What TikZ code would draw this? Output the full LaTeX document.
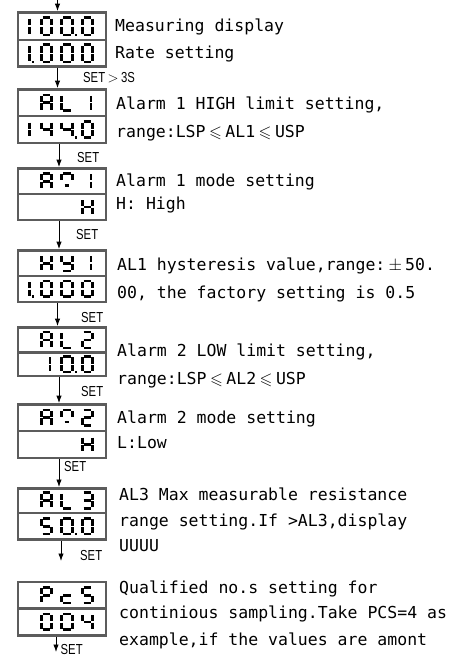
\documentclass[tikz,border=0pt]{standalone}
\usepackage{fontspec}
\usepackage{amssymb}
\usepackage{graphicx}
\usetikzlibrary{calc,arrows.meta}
\newfontfamily\monofont{DejaVu Sans Mono}
\newfontfamily\labelfont{Liberation Sans}
\definecolor{framegray}{RGB}{92,92,92}

% segments of one display cell, x to the right and y down from the cell's middle
\newcommand{\segA}{(2.6,-8.75)--(10.4,-8.75)}
\newcommand{\segB}{(11.75,-7.6)--(11.75,-0.8)}
\newcommand{\segC}{(11.75,0.8)--(11.75,7.6)}
\newcommand{\segD}{(2.6,8.75)--(10.4,8.75)}
\newcommand{\segE}{(1.25,0.8)--(1.25,7.6)}
\newcommand{\segF}{(1.25,-7.6)--(1.25,-0.8)}
\newcommand{\segG}{(2.6,0)--(10.4,0)}
\newcommand{\segU}{(10,-7.6)--(10,-0.8)}
\newcommand{\segL}{(10,0.8)--(10,7.6)}
\newcommand{\segP}{(14.6,8.75)--(16.8,8.75)}
\newcommand{\segQ}{(12.3,8.75)--(14.5,8.75)}
\newcommand{\segH}{(4.2,4.6)--(8.8,4.6)}
\def\dsc{0.9}
% #1 row node, #2 left edge of the cell from the row centre, #3 lit segments
\newcommand{\dispchar}[3]{%
  \begin{scope}[shift={($(#1.center)+(#2,0)$)},yscale=\dsc]
    \foreach \sgname in {#3}{%
      \expandafter\let\expandafter\thisseg\csname seg\sgname\endcsname
      \draw[segline] \thisseg;}
  \end{scope}}
\newcommand{\wle}{\makebox[19.8pt]{$\leqslant$}}
\newcommand{\wpm}{\makebox[19.8pt]{$\pm$}}
\newcommand{\setword}[1]{\scalebox{0.78}[1]{#1}}

\begin{document}
\begin{tikzpicture}[x=1pt,y=-1pt,
  disp/.style={draw=framegray,line width=2.5pt,fill=white,minimum width=88pt,inner sep=0pt},
  segline/.style={line width=2.6pt},
  desc/.style={font=\monofont\fontsize{16.5}{18}\selectfont,inner sep=0pt,anchor=base west},
  setlbl/.style={font=\labelfont\fontsize{14.5}{14.5}\selectfont,inner sep=0pt,anchor=base west},
  flow/.style={-{Latex[length=7.5pt,width=5.5pt]},line width=0.9pt}]
  \useasboundingbox (0,0) rectangle (450,658);
  \fill[white] (0,0) rectangle (450,658);

  % group 1: measuring display and rate
  \node[disp,minimum height=27.7pt] (g1a) at (62,26.2) {};
  \node[disp,minimum height=26.7pt] (g1b) at (62,53.4) {};
  \def\dsc{1}
  \dispchar{g1a}{-42.5}{U,L}
  \dispchar{g1a}{-22}{A,B,C,D,E,F}
  \dispchar{g1a}{-1.5}{A,B,C,D,E,F,P}
  \dispchar{g1a}{19}{A,B,C,D,E,F}
  \dispchar{g1b}{-42.5}{U,L,Q}
  \dispchar{g1b}{-22}{A,B,C,D,E,F}
  \dispchar{g1b}{-1.5}{A,B,C,D,E,F}
  \dispchar{g1b}{19}{A,B,C,D,E,F}
  \node[desc] (d1a) at (115,31.5) {Measuring display};
  \node[desc] (d1b) at (115,58.5) {Rate setting};
  \def\dsc{0.9}

  % group 2: AL1
  \node[disp,minimum height=26.7pt] (g2a) at (62,102.7) {};
  \node[disp,minimum height=26.7pt] (g2b) at (62,129.4) {};
  \dispchar{g2a}{-22}{A,B,C,E,F,G}
  \dispchar{g2a}{-1.5}{D,E,F}
  \dispchar{g2a}{19}{U,L}
  \dispchar{g2b}{-42.5}{U,L}
  \dispchar{g2b}{-22}{B,C,F,G}
  \dispchar{g2b}{-1.5}{B,C,F,G,P}
  \dispchar{g2b}{19}{A,B,C,D,E,F}
  \node[desc] (d2a) at (116,110) {Alarm 1 HIGH limit setting,};
  \node[desc] (d2b) at (116,137) {range:LSP\wle AL1\wle USP};

  % group 3: AC1
  \node[disp,minimum height=25.7pt] (g3a) at (62,181.2) {};
  \node[disp,minimum height=25.7pt] (g3b) at (62,206.9) {};
  \dispchar{g3a}{-22}{A,B,C,E,F,G}
  \dispchar{g3a}{-1.5}{A,B,F,H}
  \dispchar{g3a}{19}{U,L}
  \dispchar{g3b}{19}{B,C,E,F,G}
  \node[desc] (d3a) at (116,186) {Alarm 1 mode setting};
  \node[desc] (d3b) at (116,209) {H: High};

  % group 4: HY1
  \node[disp,minimum height=25.7pt] (g4a) at (62,263.2) {};
  \node[disp,minimum height=25.7pt] (g4b) at (62,288.9) {};
  \dispchar{g4a}{-22}{B,C,E,F,G}
  \dispchar{g4a}{-1.5}{B,C,D,F,G}
  \dispchar{g4a}{19}{U,L}
  \dispchar{g4b}{-42.5}{U,L,Q}
  \dispchar{g4b}{-22}{A,B,C,D,E,F}
  \dispchar{g4b}{-1.5}{A,B,C,D,E,F}
  \dispchar{g4b}{19}{A,B,C,D,E,F}
  \node[desc] (d4a) at (117,270.5) {AL1 hysteresis value,range:\wpm 50.};
  \node[desc] (d4b) at (117,298.5) {00, the factory setting is 0.5};

  % group 5: AL2
  \node[disp,minimum height=25.4pt] (g5a) at (62,340) {};
  \node[disp,minimum height=23.1pt] (g5b) at (62,364.3) {};
  \dispchar{g5a}{-22}{A,B,C,E,F,G}
  \dispchar{g5a}{-1.5}{D,E,F}
  \dispchar{g5a}{19}{A,B,D,E,G}
  \dispchar{g5b}{-22}{U,L}
  \dispchar{g5b}{-1.5}{A,B,C,D,E,F,P}
  \dispchar{g5b}{19}{A,B,C,D,E,F}
  \node[desc] (d5a) at (117,356.5) {Alarm 2 LOW limit setting,};
  \node[desc] (d5b) at (117,384) {range:LSP\wle AL2\wle USP};

  % group 6: AC2
  \node[disp,minimum height=26.7pt] (g6a) at (62,417.7) {};
  \node[disp,minimum height=26.7pt] (g6b) at (62,444.4) {};
  \dispchar{g6a}{-22}{A,B,C,E,F,G}
  \dispchar{g6a}{-1.5}{A,B,F,H}
  \dispchar{g6a}{19}{A,B,D,E,G}
  \dispchar{g6b}{19}{B,C,E,F,G}
  \node[desc] (d6a) at (117,423) {Alarm 2 mode setting};
  \node[desc] (d6b) at (117,448) {L:Low};

  % group 7: AL3
  \node[disp,minimum height=24.7pt] (g7a) at (62,500.6) {};
  \node[disp,minimum height=26.7pt] (g7b) at (62,526.3) {};
  \dispchar{g7a}{-22}{A,B,C,E,F,G}
  \dispchar{g7a}{-1.5}{D,E,F}
  \dispchar{g7a}{19}{A,B,C,D,G}
  \dispchar{g7b}{-22}{A,C,D,F,G}
  \dispchar{g7b}{-1.5}{A,B,C,D,E,F,P}
  \dispchar{g7b}{19}{A,B,C,D,E,F}
  \node[desc] (d7a) at (119,500) {AL3 Max measurable resistance};
  \node[desc] (d7b) at (119,526) {range setting.If >AL3,display};
  \node[desc] (d7c) at (119,551.5) {UUUU};

  % group 8: PCS
  \node[disp,minimum height=26.7pt] (g8a) at (62,595.2) {};
  \node[disp,minimum height=26.7pt] (g8b) at (62,621.9) {};
  \dispchar{g8a}{-22}{A,B,E,F,G}
  \dispchar{g8a}{-1.5}{D,E,G}
  \dispchar{g8a}{19}{A,C,D,F,G}
  \dispchar{g8b}{-22}{A,B,C,D,E,F}
  \dispchar{g8b}{-1.5}{A,B,C,D,E,F}
  \dispchar{g8b}{19}{B,C,F,G}
  \node[desc] (d8a) at (119,593) {Qualified no.s setting for};
  \node[desc] (d8b) at (119,618.5) {continious sampling.Take PCS=4 as};
  \node[desc] (d8c) at (119,645) {example,if the values are amont};

  % arrows down the left column
  \coordinate (entry) at (57.5,0);
  \draw[flow] (entry) -- (entry |- g1a.north);
  \draw[flow] ([xshift=-4.5pt]g1b.south) -- ([xshift=-4.5pt]g2a.north);
  \draw[flow] ([xshift=-3pt]g2b.south) -- ([xshift=-3pt]g3a.north);
  \draw[flow] ([xshift=-3pt]g3b.south) -- ([xshift=-3pt]g4a.north);
  \draw[flow] ([xshift=-4.5pt]g4b.south) -- ([xshift=-4.5pt]g5a.north);
  \draw[flow] ([xshift=-3pt]g5b.south) -- ([xshift=-3pt]g6a.north);
  \draw[flow] ([xshift=-3pt]g6b.south) -- ([xshift=-3pt]g7a.north);
  \coordinate (exit7) at (61,561);
  \draw[flow] (g7b.south -| exit7) -- (exit7);
  \coordinate (exit8) at (56,652);
  \draw[flow] (g8b.south -| exit8) -- (exit8);

  % SET labels beside the arrows
  \node[setlbl] (s1) at (83,83) {\setword{SET}\makebox[16pt]{$>$}\setword{3S}};
  \node[setlbl] (s2) at (77,162) {\setword{SET}};
  \node[setlbl] (s3) at (76,239) {\setword{SET}};
  \node[setlbl] (s4) at (81,322) {\setword{SET}};
  \node[setlbl] (s5) at (81,396.5) {\setword{SET}};
  \node[setlbl] (s6) at (64,471) {\setword{SET}};
  \node[setlbl] (s7) at (80,560) {\setword{SET}};
  \node[setlbl] (s8) at (60.5,654.5) {\setword{SET}};
\end{tikzpicture}
\end{document}
